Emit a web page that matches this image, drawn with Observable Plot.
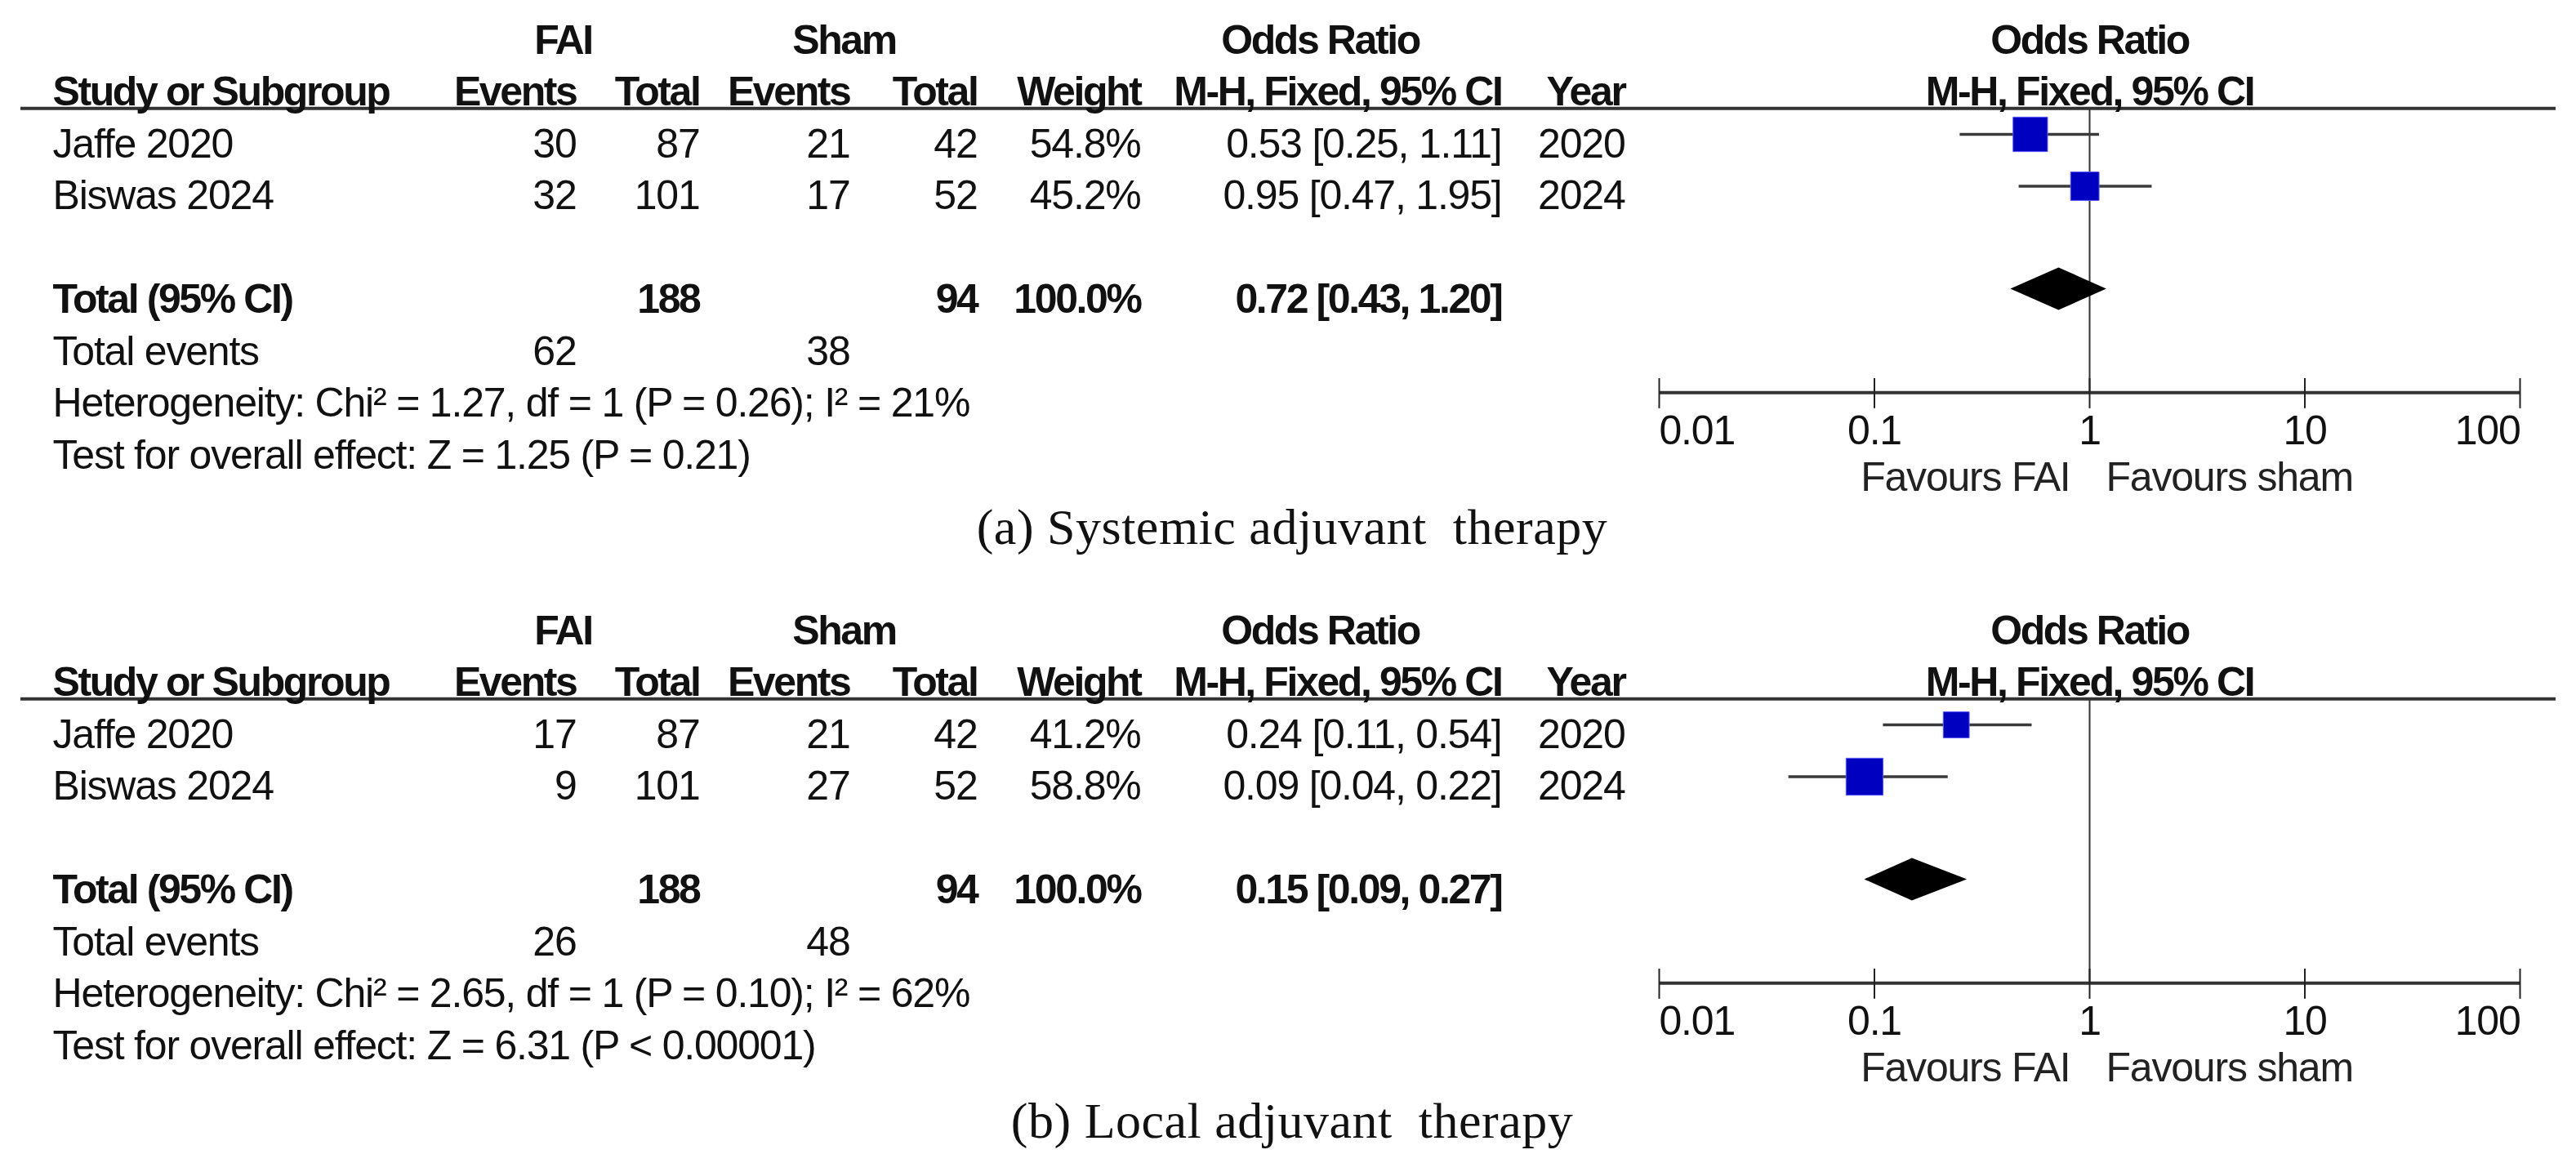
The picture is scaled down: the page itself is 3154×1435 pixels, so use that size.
<!DOCTYPE html>
<html>
<head>
<meta charset="utf-8">
<script src="https://cdn.jsdelivr.net/npm/d3@7"></script>
<script src="https://cdn.jsdelivr.net/npm/@observablehq/plot@0.6"></script>
<style>
  html, body { margin: 0; padding: 0; background: #fff; }
  #root { width: 3154px; }
  .panel { width: 3154px; }
  .panel svg { display: block; }
  .panel svg text { letter-spacing: -1.2px; }
  .panel svg g[font-weight="bold"] text { letter-spacing: -2.4px; }
  .cap { position: relative; width: 3154px; font-family: "Liberation Serif", "Times New Roman", serif; font-size: 62px; color: #111; }
  .cap span { position: absolute; left: 1582px; transform: translate(-50%, -50%); white-space: pre; line-height: 1; letter-spacing: 0.5px; }
</style>
</head>
<body>
<div id="root"></div>
<script>
// ---------------- DATA ----------------
const studyNames = ["Jaffe 2020", "Biswas 2024"];
const studyYears = [2020, 2024];
const faiTotals = [87, 101];
const shamTotals = [42, 52];
const totalN = [188, 94];

const panelLabels = ["(a) Systemic adjuvant  therapy", "(b) Local adjuvant  therapy"];

// (a) Systemic adjuvant therapy
const faiEventsA = [30, 32];
const shamEventsA = [21, 17];
const weightsA = [54.8, 45.2];
const orA = [0.53, 0.95];
const orLowA = [0.25, 0.47];
const orHighA = [1.11, 1.95];
const pooledA = [0.72, 0.43, 1.20];          // estimate, lower, upper
const totalEventsA = [62, 38];
const heterogeneityA = ["1.27", "1", "= 0.26", "21"]; // Chi², df, P, I²
const overallTestA = ["1.25", "= 0.21"];     // Z, P

// (b) Local adjuvant therapy
const faiEventsB = [17, 9];
const shamEventsB = [21, 27];
const weightsB = [41.2, 58.8];
const orB = [0.24, 0.09];
const orLowB = [0.11, 0.04];
const orHighB = [0.54, 0.22];
const pooledB = [0.15, 0.09, 0.27];
const totalEventsB = [26, 48];
const heterogeneityB = ["2.65", "1", "= 0.10", "62"];
const overallTestB = ["6.31", "< 0.00001"];

const axisTicks = [0.01, 0.1, 1, 10, 100];
const axisTickLabels = ["0.01", "0.1", "1", "10", "100"];
const favoursLabels = ["Favours FAI", "Favours sham"];

// ---------------- LAYOUT / STYLE ----------------
const W = 3154;
const SVG_H = 615;
const FONT = "'Liberation Sans', Arial, Helvetica, sans-serif";
const FS = 50;
const INK = "#111";
const COL = { study: 64, faiEv: 705, faiTot: 856, shamEv: 1040, shamTot: 1196, weight: 1396, ci: 1838, year: 1989,
              faiHead: 689, shamHead: 1033, orHead: 1616 };
// row positions (row units)
const ROW = { group: -2, head: -1, study: [0, 1], total: 3, events: 4, het: 5, test: 6,
              headLine: -0.69, axis: 4.79, tickTop: 4.52, tickBot: 5.10, tickLabel: 5.53, favours: 6.44 };

const fmt2 = v => v.toFixed(2);

function col(items, dx, anchor, bold) {
  return Plot.text(items, {
    y: "y", text: "t", frameAnchor: "left", dx, textAnchor: anchor,
    fontSize: FS, fontFamily: FONT, fontWeight: bold ? "bold" : "normal",
    fill: INK, lineAnchor: "middle"
  });
}

function buildPanel(d) {
  const rows = ROW.study;
  const studies = studyNames.map((name, i) => ({
    name, row: rows[i], or: d.or[i], lo: d.lo[i], hi: d.hi[i], w: d.w[i]
  }));
  const [est, plo, phi] = d.pooled;
  const diamondHalf = 0.41;
  const diamond = [
    { x: plo, y1: ROW.total, y2: ROW.total },
    { x: est, y1: ROW.total - diamondHalf, y2: ROW.total + diamondHalf },
    { x: phi, y1: ROW.total, y2: ROW.total }
  ];
  const S = (arr, y) => arr.map((t, i) => ({ t: String(t), y: y[i] }));

  const marks = [
    // header rule across table and plot
    Plot.ruleY([ROW.headLine], { stroke: "#333", strokeWidth: 4, insetLeft: 25, insetRight: 25 }),
    // group headers
    col([{ t: "FAI", y: ROW.group }], COL.faiHead, "middle", true),
    col([{ t: "Sham", y: ROW.group }], COL.shamHead, "middle", true),
    col([{ t: "Odds Ratio", y: ROW.group }], COL.orHead, "middle", true),
    // column headers
    col([{ t: "Study or Subgroup", y: ROW.head }], COL.study, "start", true),
    col([{ t: "Events", y: ROW.head }], COL.faiEv, "end", true),
    col([{ t: "Total", y: ROW.head }], COL.faiTot, "end", true),
    col([{ t: "Events", y: ROW.head }], COL.shamEv, "end", true),
    col([{ t: "Total", y: ROW.head }], COL.shamTot, "end", true),
    col([{ t: "Weight", y: ROW.head }], COL.weight, "end", true),
    col([{ t: "M-H, Fixed, 95% CI", y: ROW.head }], COL.ci, "end", true),
    col([{ t: "Year", y: ROW.head }], COL.year, "end", true),
    // study rows
    col(S(studyNames, rows), COL.study, "start", false),
    col(S(d.faiEv, rows), COL.faiEv, "end", false),
    col(S(faiTotals, rows), COL.faiTot, "end", false),
    col(S(d.shamEv, rows), COL.shamEv, "end", false),
    col(S(shamTotals, rows), COL.shamTot, "end", false),
    col(S(d.w.map(v => v.toFixed(1) + "%"), rows), COL.weight, "end", false),
    col(S(d.or.map((v, i) => `${fmt2(v)} [${fmt2(d.lo[i])}, ${fmt2(d.hi[i])}]`), rows), COL.ci, "end", false),
    col(S(studyYears, rows), COL.year, "end", false),
    // total row
    col([{ t: "Total (95% CI)", y: ROW.total }], COL.study, "start", true),
    col([{ t: String(totalN[0]), y: ROW.total }], COL.faiTot, "end", true),
    col([{ t: String(totalN[1]), y: ROW.total }], COL.shamTot, "end", true),
    col([{ t: d.w.reduce((a, b) => a + b, 0).toFixed(1) + "%", y: ROW.total }], COL.weight, "end", true),
    col([{ t: `${fmt2(est)} [${fmt2(plo)}, ${fmt2(phi)}]`, y: ROW.total }], COL.ci, "end", true),
    // total events
    col([{ t: "Total events", y: ROW.events }], COL.study, "start", false),
    col([{ t: String(d.totalEv[0]), y: ROW.events }], COL.faiEv, "end", false),
    col([{ t: String(d.totalEv[1]), y: ROW.events }], COL.shamEv, "end", false),
    // heterogeneity / overall test
    col([{ t: `Heterogeneity: Chi² = ${d.het[0]}, df = ${d.het[1]} (P ${d.het[2]}); I² = ${d.het[3]}%`, y: ROW.het }], COL.study, "start", false),
    col([{ t: `Test for overall effect: Z = ${d.test[0]} (P ${d.test[1]})`, y: ROW.test }], COL.study, "start", false),

    // ---- forest plot ----
    Plot.text([1], { x: d => d, y: ROW.group, text: () => "Odds Ratio", fontSize: FS, fontFamily: FONT, fontWeight: "bold", fill: INK }),
    Plot.text([1], { x: d => d, y: ROW.head, text: () => "M-H, Fixed, 95% CI", fontSize: FS, fontFamily: FONT, fontWeight: "bold", fill: INK }),
    Plot.ruleX([1], { y1: ROW.headLine, y2: ROW.axis, stroke: "#333", strokeWidth: 2 }),
    Plot.ruleY(studies, { y: "row", x1: "lo", x2: "hi", stroke: "#3a3a3a", strokeWidth: 3.5, dy: -12 }),
    Plot.dot(studies, { x: "or", y: "row", r: "w", symbol: "square", fill: "#0000c0", stroke: "#5a5aff", strokeWidth: 1, dy: -12 }),
    Plot.areaY(diamond, { x: "x", y1: "y1", y2: "y2", fill: "#000", curve: "linear", dy: -13 }),
    // axis
    Plot.ruleY([ROW.axis], { x1: axisTicks[0], x2: axisTicks[axisTicks.length - 1], stroke: "#333", strokeWidth: 4 }),
    Plot.ruleX(axisTicks, { x: d => d, y1: ROW.tickTop, y2: ROW.tickBot, stroke: "#222", strokeWidth: 2 }),
    Plot.text(axisTicks.slice(0, 1), { x: d => d, y: ROW.tickLabel, text: () => axisTickLabels[0], textAnchor: "start", fontSize: FS, fontFamily: FONT, fill: INK }),
    Plot.text(axisTicks.slice(1, -1), { x: d => d, y: ROW.tickLabel, text: (d, i) => axisTickLabels[i + 1], textAnchor: "middle", fontSize: FS, fontFamily: FONT, fill: INK }),
    Plot.text(axisTicks.slice(-1), { x: d => d, y: ROW.tickLabel, text: () => axisTickLabels[axisTickLabels.length - 1], textAnchor: "end", fontSize: FS, fontFamily: FONT, fill: INK }),
    Plot.text([1], { x: d => d, y: ROW.favours, text: () => favoursLabels[0], textAnchor: "end", dx: -24, fontSize: FS, fontFamily: FONT, fill: "#222" }),
    Plot.text([1], { x: d => d, y: ROW.favours, text: () => favoursLabels[1], textAnchor: "start", dx: 20, fontSize: FS, fontFamily: FONT, fill: "#222" })
  ];

  return Plot.plot({
    width: W, height: SVG_H,
    marginTop: 0, marginRight: 0, marginBottom: 0, marginLeft: 0,
    style: { background: "#fff", overflow: "visible" },
    x: { type: "log", domain: [0.01, 100], range: [2031, 3085], axis: null },
    y: { type: "linear", domain: [-2, 6], range: [49, 557], axis: null },
    r: { type: "linear", domain: [0, 100], range: [0, 43.5] },
    marks
  });
}

const panelData = [
  { faiEv: faiEventsA, shamEv: shamEventsA, w: weightsA, or: orA, lo: orLowA, hi: orHighA,
    pooled: pooledA, totalEv: totalEventsA, het: heterogeneityA, test: overallTestA, capH: 108, capY: 30 },
  { faiEv: faiEventsB, shamEv: shamEventsB, w: weightsB, or: orB, lo: orLowB, hi: orHighB,
    pooled: pooledB, totalEv: totalEventsB, het: heterogeneityB, test: overallTestB, capH: 97, capY: 34 }
];

const root = document.getElementById("root");
panelData.forEach((d, i) => {
  const wrap = document.createElement("div");
  wrap.className = "panel";
  wrap.appendChild(buildPanel(d));
  const cap = document.createElement("div");
  cap.className = "cap";
  cap.style.height = d.capH + "px";
  const span = document.createElement("span");
  span.style.top = d.capY + "px";
  span.textContent = panelLabels[i];
  cap.appendChild(span);
  wrap.appendChild(cap);
  root.appendChild(wrap);
});
</script>
</body>
</html>
